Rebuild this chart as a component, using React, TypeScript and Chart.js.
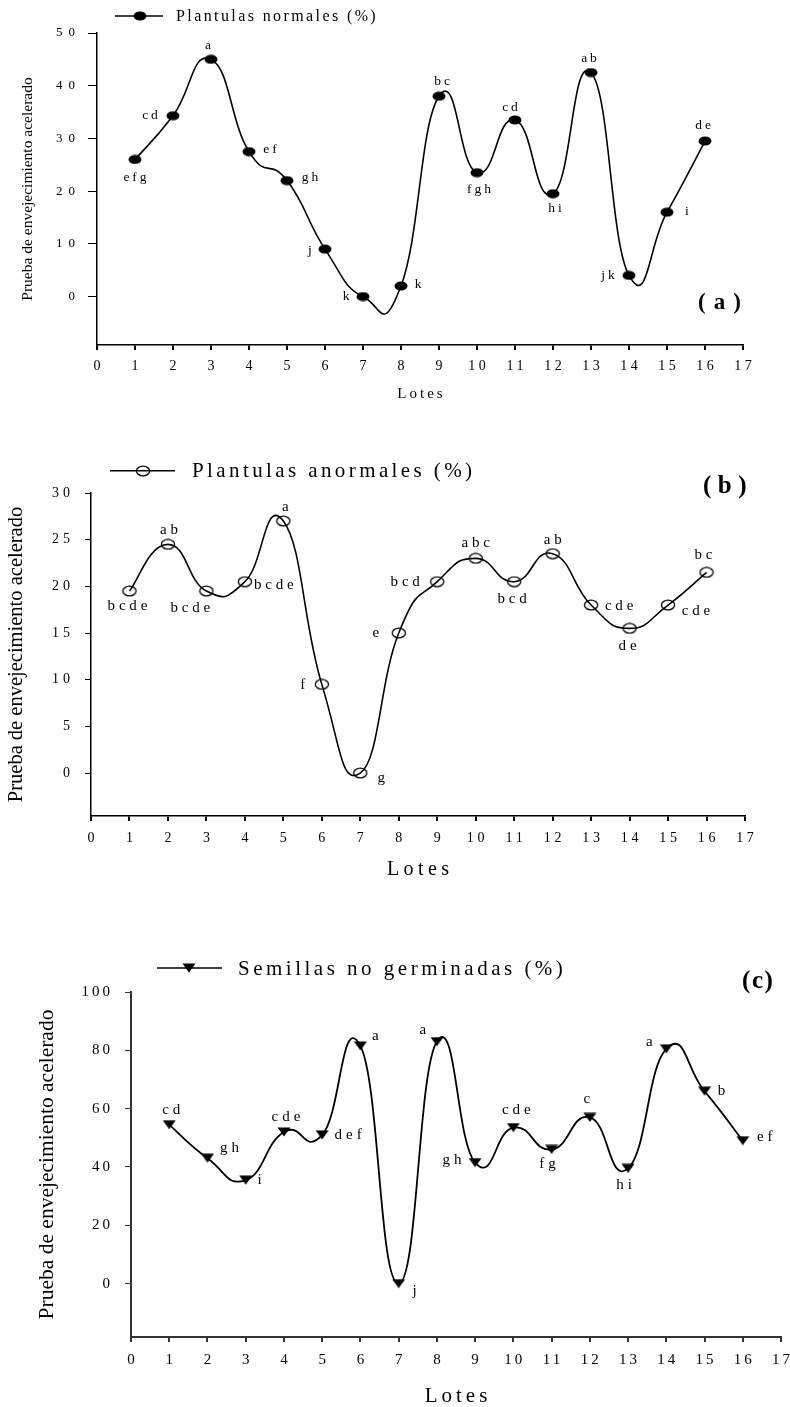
import React, { useEffect, useRef } from 'react';
import { Chart, registerables } from 'chart.js';

Chart.register(...registerables);

// ---------------- Data ----------------
const lots = [1, 2, 3, 4, 5, 6, 7, 8, 9, 10, 11, 12, 13, 14, 15, 16];
const xTickValues = [0, 1, 2, 3, 4, 5, 6, 7, 8, 9, 10, 11, 12, 13, 14, 15, 16, 17];

const yTicksNormales = [0, 10, 20, 30, 40, 50];
const yTicksAnormales = [0, 5, 10, 15, 20, 25, 30];
const yTicksNoGerminadas = [0, 20, 40, 60, 80, 100];

const normales = [26, 34.3, 45, 27.5, 22, 9, 0, 2, 38, 23.5, 33.5, 19.5, 42.5, 4, 16, 29.5];
const normalesLetters = ['efg', 'cd', 'a', 'ef', 'gh', 'j', 'k', 'k', 'bc', 'fgh', 'cd', 'hi', 'ab', 'jk', 'i', 'de'];

const anormales = [19.5, 24.5, 19.5, 20.5, 27, 9.5, 0, 15, 20.5, 23, 20.5, 23.5, 18, 15.5, 18, 21.5];
const anormalesLetters = ['bcde', 'ab', 'bcde', 'bcde', 'a', 'f', 'g', 'e', 'bcd', 'abc', 'bcd', 'ab', 'cde', 'de', 'cde', 'bc'];

const noGerminadas = [54.5, 43, 35.5, 52, 51, 81.5, 0, 83, 41.5, 53.5, 46, 57, 39.5, 80.5, 66, 49];
const noGerminadasLetters = ['cd', 'gh', 'i', 'cde', 'def', 'a', 'j', 'a', 'gh', 'cde', 'fg', 'c', 'hi', 'a', 'b', 'ef'];

const legendNormales = 'Plantulas normales (%)';
const legendAnormales = 'Plantulas anormales (%)';
const legendNoGerminadas = 'Semillas no germinadas (%)';
const yAxisTitle = 'Prueba de envejecimiento acelerado';
const xAxisTitle = 'Lotes';

// ---------------- Layout / style (not data) ----------------
const SERIF = '"Liberation Serif", "Times New Roman", serif';
const CANVAS_W = 790;
const X_AXIS_H = 40;

// label placement offsets in px relative to each point
const offsetsA = [[0, 18], [-23, 0], [-3, -14], [21, -2], [23, -3], [-15, 1], [-17, 0], [17, -2], [3, -15], [2, 17], [-5, -13], [2, 15], [-2, -14], [-21, 0], [20, -1], [-2, -16]];
const offsetsB = [[-2, 15], [1, -14], [-16, 17], [29, 3], [2, -14], [-19, 1], [21, 5], [-23, 0], [-32, 0], [0, -15], [-2, 17], [0, -14], [28, 1], [-2, 18], [28, 6], [-3, -17]];
const offsetsC = [[2, -15], [22, -10], [14, 0], [2, -15], [26, 0], [15, -10], [16, 7], [-14, -12], [-23, -3], [3, -18], [-4, 15], [-3, -18], [-4, 17], [-17, -7], [17, 0], [22, -4]];

type PanelCfg = any;

const panels: PanelCfg[] = [
  {
    id: 'a', top: 0, height: 410,
    area: { left: 97, right: 743, top: 33, bottom: 345 },
    yMin: -9.2, yMax: 50, yTicks: yTicksNormales,
    values: normales, letters: normalesLetters, offsets: offsetsA,
    marker: 'filled',
    axisColor: '#000', axisWidth: 1.5, lineWidth: 1.6,
    yTickLen: 9, yTickPad: 13, yTickFont: 13, yTickSpacing: 6,
    xTickLen: 5, xTickPad: 8, xTickFont: 14, xTickSpacing: 3.5,
    letterFont: 13.5, letterSpacing: 3,
    legend: { text: legendNormales, x1: 115, x2: 163, y: 16, mx: 140, tx: 176, ty: 20.7, font: 16, spacing: 2.4 },
    yTitle: { x: 31.5, font: 15.5 },
    xTitle: { y: 398, font: 15, spacing: 3 },
    tag: { text: '(a)', x: 698, y: 303, font: 23, spacing: 8 },
  },
  {
    id: 'b', top: 440, height: 450,
    area: { left: 91, right: 745, top: 53, bottom: 376 },
    yMin: -4.6, yMax: 30, yTicks: yTicksAnormales,
    values: anormales, letters: anormalesLetters, offsets: offsetsB,
    marker: 'open',
    axisColor: '#000', axisWidth: 1.5, lineWidth: 1.6,
    yTickLen: 6, yTickPad: 15, yTickFont: 14, yTickSpacing: 4,
    xTickLen: 5, xTickPad: 9, xTickFont: 14, xTickSpacing: 3.7,
    letterFont: 15, letterSpacing: 3.8,
    legend: { text: legendAnormales, x1: 110, x2: 175, y: 30.7, mx: 143, tx: 192, ty: 37.3, font: 21, spacing: 3.4 },
    yTitle: { x: 21.7, font: 20.5 },
    xTitle: { y: 435, font: 20, spacing: 4.4 },
    tag: { text: '(b)', x: 703, y: 47, font: 25, spacing: 6.5 },
  },
  {
    id: 'c', top: 950, height: 457,
    area: { left: 131, right: 781, top: 42, bottom: 387 },
    yMin: -18.3, yMax: 100, yTicks: yTicksNoGerminadas,
    values: noGerminadas, letters: noGerminadasLetters, offsets: offsetsC,
    marker: 'triangle',
    axisColor: '#333', axisWidth: 2, lineWidth: 1.8,
    yTickLen: 6, yTickPad: 15, yTickFont: 15, yTickSpacing: 3,
    xTickLen: 5, xTickPad: 9, xTickFont: 15, xTickSpacing: 3,
    letterFont: 15, letterSpacing: 4,
    legend: { text: legendNoGerminadas, x1: 157, x2: 222, y: 18, mx: 189, tx: 238, ty: 25, font: 21, spacing: 3.5 },
    yTitle: { x: 53.3, font: 21.5 },
    xTitle: { y: 452, font: 21, spacing: 4 },
    tag: { text: '(c)', x: 742, y: 31.5, font: 25, spacing: 1.6 },
  },
];

function makeMarker(kind: string): HTMLCanvasElement {
  const c = document.createElement('canvas');
  if (kind === 'triangle') {
    c.width = 14; c.height = 10;
    const g = c.getContext('2d')!;
    g.fillStyle = '#000';
    g.beginPath();
    g.moveTo(0.5, 0.5); g.lineTo(13.5, 0.5); g.lineTo(7, 9.5);
    g.closePath(); g.fill();
  } else if (kind === 'filled') {
    c.width = 14; c.height = 10;
    const g = c.getContext('2d')!;
    g.fillStyle = '#000';
    g.beginPath();
    g.ellipse(7, 5, 6.5, 4.6, 0, 0, Math.PI * 2);
    g.fill();
  } else {
    c.width = 16; c.height = 12;
    const g = c.getContext('2d')!;
    g.strokeStyle = '#000';
    g.lineWidth = 1.3;
    g.beginPath();
    g.ellipse(8, 6, 6.6, 4.8, 0, 0, Math.PI * 2);
    g.stroke();
  }
  return c;
}

// Excel-like smoothing: Catmull-Rom style control points
const excelSmoothing = {
  id: 'excelSmoothing',
  beforeDatasetDraw(chart: any, args: any) {
    const meta = args.meta;
    const pts = meta.data as any[];
    const k = 0.25;
    for (let i = 0; i < pts.length; i++) {
      const p = pts[i];
      const prev = pts[i - 1] || p;
      const next = pts[i + 1] || p;
      const dx = next.x - prev.x;
      const dy = next.y - prev.y;
      p.cp1x = p.x - k * dx; p.cp1y = p.y - k * dy;
      p.cp2x = p.x + k * dx; p.cp2y = p.y + k * dy;
    }
    const line = meta.dataset;
    if (line) { line._pointsUpdated = true; line._path = undefined; }
  },
};

function wrapLabels(s: any, sp: number) {
  if (s.__ls) return;
  s.__ls = true;
  const orig = s.drawLabels;
  s.drawLabels = function (area: any) {
    const ctx = this.ctx;
    const prev = ctx.letterSpacing;
    ctx.save();
    ctx.letterSpacing = sp + 'px';
    ctx.translate(this.isHorizontal() ? sp / 2 : sp, 0);
    orig.call(this, area);
    ctx.restore();
    ctx.letterSpacing = prev;
  };
}

function Panel({ cfg }: { cfg: PanelCfg }) {
  const ref = useRef<HTMLCanvasElement>(null);
  useEffect(() => {
    const canvas = ref.current!;
    const marker = makeMarker(cfg.marker);
    const overlay = {
      id: 'overlay',
      afterDraw(chart: any) {
        const ctx = chart.ctx as any;
        const ca = chart.chartArea;
        ctx.save();
        ctx.fillStyle = '#000';
        // letters
        const meta = chart.getDatasetMeta(0);
        ctx.font = `${cfg.letterFont}px ${SERIF}`;
        ctx.letterSpacing = cfg.letterSpacing + 'px';
        ctx.textAlign = 'center';
        ctx.textBaseline = 'middle';
        meta.data.forEach((pt: any, i: number) => {
          const o = cfg.offsets[i];
          ctx.fillText(cfg.letters[i], pt.x + o[0] + cfg.letterSpacing / 2, pt.y + o[1]);
        });
        // legend
        const lg = cfg.legend;
        ctx.strokeStyle = '#000';
        ctx.lineWidth = 1.5;
        ctx.beginPath();
        ctx.moveTo(lg.x1, lg.y); ctx.lineTo(lg.x2, lg.y);
        ctx.stroke();
        ctx.drawImage(marker, Math.round(lg.mx - marker.width / 2), Math.round(lg.y - marker.height / 2));
        ctx.font = `${lg.font}px ${SERIF}`;
        ctx.letterSpacing = lg.spacing + 'px';
        ctx.textAlign = 'left';
        ctx.textBaseline = 'alphabetic';
        ctx.fillText(lg.text, lg.tx, lg.ty);
        // x title
        ctx.font = `${cfg.xTitle.font}px ${SERIF}`;
        ctx.letterSpacing = cfg.xTitle.spacing + 'px';
        ctx.textAlign = 'center';
        ctx.fillText(xAxisTitle, (ca.left + ca.right) / 2 + cfg.xTitle.spacing / 2, cfg.xTitle.y);
        // panel tag
        ctx.font = `bold ${cfg.tag.font}px ${SERIF}`;
        ctx.letterSpacing = cfg.tag.spacing + 'px';
        ctx.textAlign = 'left';
        ctx.textBaseline = 'middle';
        ctx.fillText(cfg.tag.text, cfg.tag.x, cfg.tag.y);
        // y title
        ctx.letterSpacing = '0px';
        ctx.font = `${cfg.yTitle.font}px ${SERIF}`;
        ctx.textAlign = 'center';
        ctx.textBaseline = 'alphabetic';
        ctx.translate(cfg.yTitle.x, (ca.top + ca.bottom) / 2);
        ctx.rotate(-Math.PI / 2);
        ctx.fillText(yAxisTitle, 0, 0);
        ctx.restore();
      },
    };

    const chart = new Chart(canvas, {
      type: 'line',
      data: {
        datasets: [
          {
            data: lots.map((x, i) => ({ x, y: cfg.values[i] })),
            borderColor: '#000',
            borderWidth: cfg.lineWidth,
            pointStyle: marker as any,
            pointRadius: 6,
            pointHoverRadius: 6,
            tension: 0.4,
            fill: false,
            clip: false as any,
          },
        ],
      },
      options: {
        animation: false,
        responsive: false,
        devicePixelRatio: 1,
        events: [],
        layout: {
          padding: {
            left: 0,
            top: cfg.area.top,
            right: CANVAS_W - cfg.area.right,
            bottom: cfg.height - cfg.area.bottom - X_AXIS_H,
          },
        },
        plugins: { legend: { display: false }, tooltip: { enabled: false }, title: { display: false } },
        scales: {
          x: {
            type: 'linear',
            min: 0,
            max: 17,
            afterBuildTicks: (s: any) => { s.ticks = xTickValues.map((v) => ({ value: v })); },
            afterFit: (s: any) => {
              s.height = X_AXIS_H;
              s.paddingLeft = 0; s.paddingRight = 0; s.paddingTop = 0; s.paddingBottom = 0;
              wrapLabels(s, cfg.xTickSpacing);
            },
            grid: { drawOnChartArea: false, drawTicks: true, tickLength: cfg.xTickLen, lineWidth: 2, color: cfg.axisColor },
            border: { display: true, color: cfg.axisColor, width: cfg.axisWidth },
            ticks: {
              color: '#000',
              font: { family: SERIF, size: cfg.xTickFont },
              padding: cfg.xTickPad,
              autoSkip: false,
              maxRotation: 0,
              minRotation: 0,
              callback: (v: any) => String(v),
            },
          },
          y: {
            type: 'linear',
            min: cfg.yMin,
            max: cfg.yMax,
            afterBuildTicks: (s: any) => { s.ticks = cfg.yTicks.map((v: number) => ({ value: v })); },
            afterFit: (s: any) => {
              s.width = cfg.area.left;
              s.paddingLeft = 0; s.paddingRight = 0; s.paddingTop = 0; s.paddingBottom = 0;
              wrapLabels(s, cfg.yTickSpacing);
            },
            grid: { drawOnChartArea: false, drawTicks: true, tickLength: cfg.yTickLen, lineWidth: 1, color: cfg.axisColor },
            border: { display: true, color: cfg.axisColor, width: cfg.axisWidth },
            ticks: {
              color: '#000',
              font: { family: SERIF, size: cfg.yTickFont },
              padding: cfg.yTickPad,
              callback: (v: any) => String(v),
            },
          },
        },
      } as any,
      plugins: [excelSmoothing as any, overlay as any],
    });
    return () => chart.destroy();
  }, [cfg]);
  return (
    <canvas
      ref={ref}
      width={CANVAS_W}
      height={cfg.height}
      style={{ position: 'absolute', left: 0, top: cfg.top, width: CANVAS_W, height: cfg.height, display: 'block' }}
    />
  );
}

export default function App() {
  return (
    <div style={{ position: 'absolute', left: 0, top: 0, width: 790, height: 1407, background: '#fff', overflow: 'hidden' }}>
      {panels.map((p) => (
        <Panel key={p.id} cfg={p} />
      ))}
    </div>
  );
}
